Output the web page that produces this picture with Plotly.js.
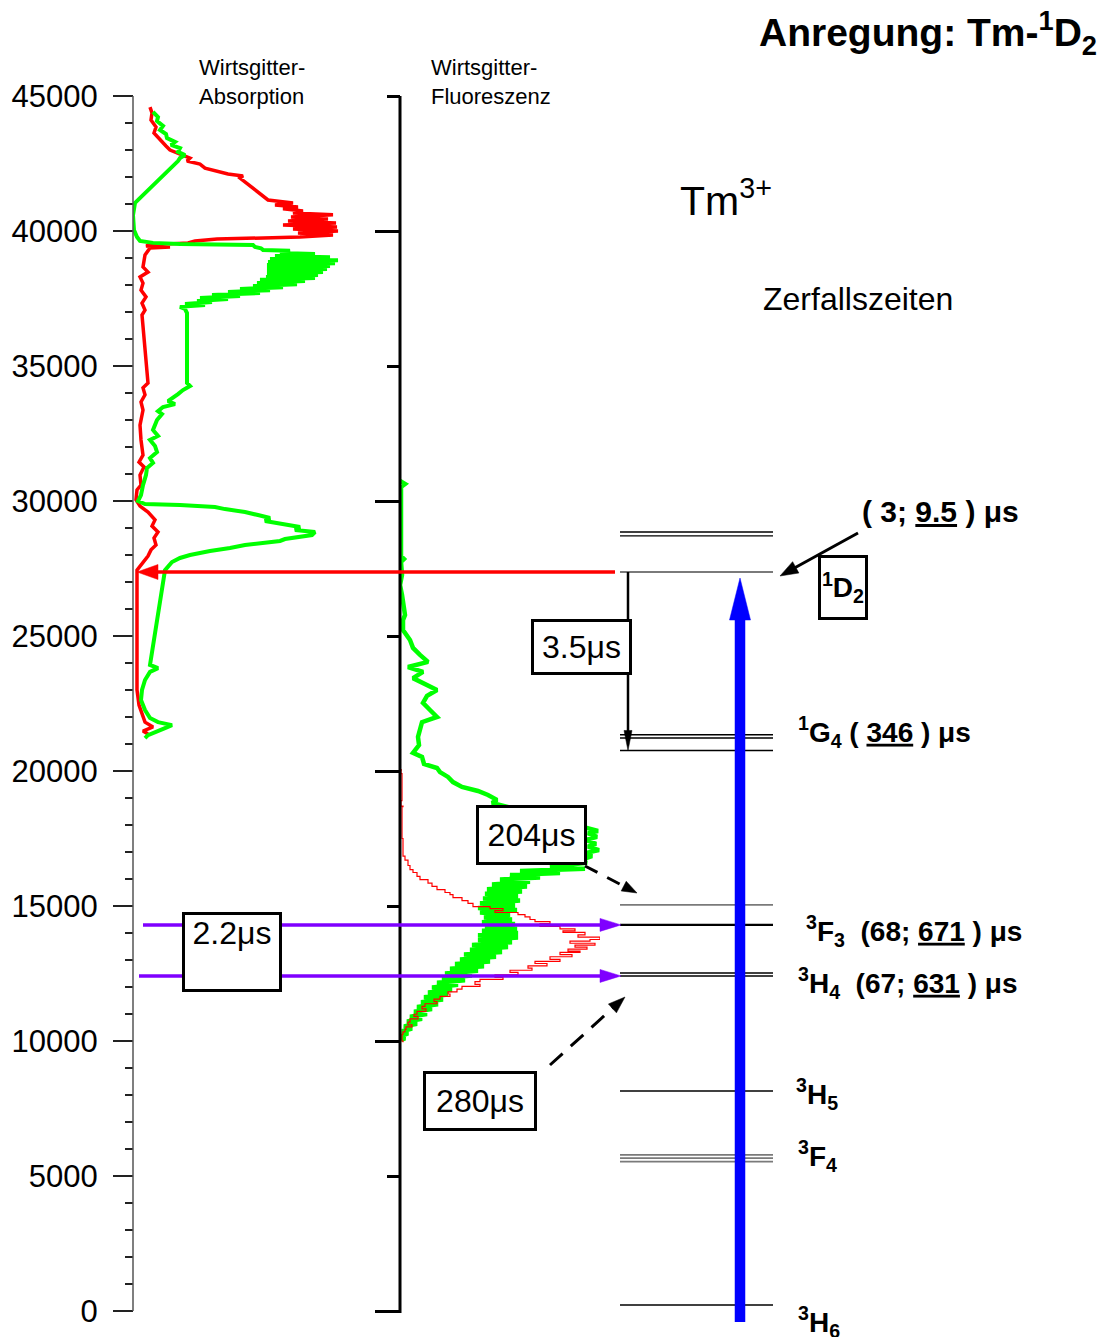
<!DOCTYPE html>
<html>
<head>
<meta charset="utf-8">
<script src="https://cdn.plot.ly/plotly-3.0.1.min.js"></script>
<style>
  html, body { margin: 0; padding: 0; background: #ffffff; }
  #chart { width: 1109px; height: 1337px; }
</style>
</head>
<body>
<div id="chart"></div>
<script>
// ---------- Host-lattice absorption spectra (energy in cm^-1, intensity in a.u.) ----------
const absEnergyRed = [44590, 44370, 44110, 43850, 43630, 43370, 43150, 43000, 42810, 42700, 42590, 42480, 42330, 42220, 42110, 42040, 41960,
  41150, 41040, 40960, 40890, 40820, 40740, 40670, 40600, 40520, 40440, 40370, 40300, 40220, 40150, 40070, 40000, 39930, 39850, 39780,
  39740, 39700, 39630, 39560, 39480, 39440, 39410, 39370,
  39110, 38850, 38670, 38480, 38300, 38070, 37810, 37560, 37330, 37070, 36890,
  34370, 34190, 33930, 33670, 33370, 32810, 32260, 31700, 31440, 31260, 30960, 30590, 30410, 30040,
  29810, 29590, 29300, 29070, 28850, 28630, 28370, 28190, 27960, 27780, 27590, 27440, 27070,
  23000, 22440, 22070, 21810, 21630, 21480, 21370];
const absRed = [17, 19, 18, 23, 21, 27, 33, 37, 50, 57, 54, 67, 72, 82, 95, 110, 107,
  135, 160, 142, 165, 150, 170, 160, 200, 158, 195, 155, 203, 150, 204, 160, 205, 165, 200, 167,
  137, 84, 62, 55, 17, 13, 37, 17,
  12, 11, 10, 15, 7, 10, 8, 13, 9, 12, 9,
  15, 10, 12, 8, 10, 7, 8, 10, 6, 11, 7, 8, 4, 3,
  7, 15, 22, 19, 25, 21, 23, 18, 15, 11, 7, 4, 4,
  4, 6, 9, 12, 20, 10, 15];

const absEnergyGreen = [44410, 44220, 44070, 43890, 43740, 43590, 43440, 43300, 43190, 43070, 42930, 42810, 42700, 42590,
  41040, 40590, 40040, 39780, 39630, 39560,
  39520, 39480, 39410, 39360,
  39300, 39270, 39185, 39150, 39070, 39030, 38960, 38920, 38850, 38810, 38740, 38700, 38630, 38590, 38520, 38480,
  38410, 38370, 38300, 38260, 38190, 38150, 38070, 38030, 37960, 37920, 37850, 37810, 37740, 37700, 37630, 37590,
  37520, 37480, 37410, 37370, 37300, 37260, 37190, 37110, 36960,
  34370, 34260, 34110, 33960, 33810, 33700, 33590, 33480, 33330, 33220, 33000, 32630, 32410, 32260, 32040, 31810, 31590, 31410, 31220, 30960, 30590, 30220, 30000,
  29890, 29850, 29780, 29700, 29590, 29480, 29370, 29260, 29150, 29040, 28930, 28850, 28740, 28670, 28590, 28520, 28440, 28370, 28260, 28150, 28000, 27890, 27740, 27590, 27440,
  23930, 23810, 23670, 23370, 23000, 22630, 22260, 21960, 21810, 21700, 21590, 21480, 21330, 21220];
const absGreen = [20, 25, 24, 30, 27, 33, 34, 42, 38, 47, 45, 52, 47, 45,
  2, 0, 1, 4, 7, 20,
  47, 120, 122, 128,
  130, 157, 147, 182, 142, 197, 137, 205, 135, 202, 134, 197, 134, 194, 134, 190,
  134, 185, 133, 182, 127, 172, 124, 164, 120, 150, 107, 137, 95, 127, 79, 107,
  67, 95, 64, 79, 52, 72, 47, 52, 54,
  54, 57, 50, 45, 39, 35, 42, 30, 25, 29, 24, 20, 25, 17, 22, 24, 17, 20, 14, 13, 10, 8, 5,
  12, 47, 82, 92, 112, 125, 137, 132, 152, 167, 162, 182, 179, 167, 152, 147, 127, 112, 97, 77, 57, 47, 39, 35, 32,
  17, 25, 17, 12, 9, 8, 12, 17, 25, 39, 32, 24, 15, 12];

// ---------- Host-lattice fluorescence spectra ----------
const fluoEnergyGreen = [30740, 30630, 30520, 29300, 27960, 27850, 27740, 27260, 26890, 26520, 26150, 25780, 25590, 25220, 24850,
  24560, 24300, 24040, 23850, 23670, 23440, 23220, 23000, 22780, 22520, 22260, 22000, 21810, 21520, 21260,
  20960, 20670, 20520, 20260, 20110, 19960, 19780, 19590, 19410, 19260, 19110, 18930, 18820,
  17850, 17780, 17700, 17560, 17450, 17300, 17200, 17070, 16960, 16850, 16700, 16600,
  16450, 16380, 16300, 16220, 16150, 16060, 15980, 15900, 15800, 15720, 15620, 15540, 15450, 15370, 15280, 15200, 15100, 15020, 14930, 14850,
  14760, 14680, 14580, 14500, 14400, 14330, 14250, 14160, 14080, 14000, 13920, 13830, 13740, 13660, 13560, 13480, 13380, 13300, 13200, 13120,
  13020, 12940, 12850, 12770, 12680, 12600, 12500, 12430, 12330, 12250, 12160, 12080, 11980, 11900, 11800, 11720, 11620, 11540, 11440, 11360,
  11260, 11180, 11080, 11000, 10900, 10820, 10720, 10640, 10540, 10460, 10360, 10280, 10180, 10100, 10040];
const fluoGreen = [0, 5, 1, 1, 1, 4, 1, 2, 0, 2, 3, 5, 3, 3, 10,
  13, 20, 28, 8, 23, 13, 25, 37, 27, 23, 30, 37, 22, 20, 18,
  19, 13, 22, 24, 37, 40, 48, 53, 62, 78, 88, 97, 92,
  190, 198, 188, 197, 186, 196, 188, 199, 185, 192, 180, 187,
  150, 185, 120, 160, 110, 140, 100, 130, 92, 127, 87, 122, 85, 118, 83, 120, 80, 115, 78, 117,
  80, 110, 84, 112, 82, 115, 85, 117, 82, 118, 78, 118, 78, 112, 72, 108, 70, 102, 64, 96,
  60, 90, 55, 84, 50, 78, 45, 72, 42, 65, 37, 58, 32, 52, 28, 48, 24, 43, 21, 38,
  17, 32, 14, 27, 10, 22, 7, 17, 4, 12, 2, 8, 1, 5, 1];

const fluoEnergyRed = [20040, 19900, 18900, 18700, 18680, 17500, 16850, 16700, 16500, 16350,
  16240, 16100, 15980, 15850, 15730, 15610, 15500, 15420, 15310, 15200,
  15100, 14980, 14900, 14830, 14760, 14680, 14600, 14500, 14420, 14350,
  14240, 14150, 14080, 14020, 13930, 13850, 13760, 13700, 13620, 13550,
  13480, 13400, 13330, 13280, 13200, 13120, 13020, 12950, 12870, 12780,
  12700, 12620, 12540, 12450, 12360, 12280, 12200, 12100, 12020, 11920,
  11820, 11740, 11650, 11550, 11460, 11380, 11280, 11190, 11100, 10990,
  10910, 10820, 10700, 10600, 10520, 10430, 10340, 10250, 10150, 10000, 9950];
const fluoRed = [2, 1, 2, 1, 3, 2, 3, 5, 8, 10,
  13, 17, 20, 28, 32, 37, 45, 50, 53, 62,
  68, 73, 90, 103, 95, 118, 125, 130, 135, 150,
  140, 160, 175, 163, 185, 178, 200, 190, 170, 195,
  175, 187, 168, 180, 160, 172, 150, 160, 135, 147,
  128, 132, 110, 118, 95, 103, 80, 75, 80, 62,
  57, 48, 50, 40, 34, 37, 25, 22, 26, 17,
  14, 18, 10, 8, 12, 6, 5, 3, 2, 2, 3];

// ---------- Tm3+ energy levels (cm^-1) ----------
const levelEnergies = [28850, 28710, 27370, 21340, 21220, 20760, 15040, 14300, 12520, 12410, 8150, 5780, 5660, 5530, 220];
const levelTerms    = ['1I6', '1I6', '1D2', '1G4', '1G4', '1G4', '3F2', '3F3', '3H4', '3H4', '3H5', '3F4', '3F4', '3F4', '3H6'];

// Level labels with decay times (fast; slow) in µs
const labelTerms = ['1G4', '3F3', '3H4', '3H5', '3F4', '3H6'];
const labelTexts = [
  '<sup>1</sup>G<sub>4</sub> ( <u>346</u> ) μs',
  '<sup>3</sup>F<sub>3</sub>  (68; <u>671</u> ) μs',
  '<sup>3</sup>H<sub>4</sub>  (67; <u>631</u> ) μs',
  '<sup>3</sup>H<sub>5</sub>',
  '<sup>3</sup>F<sub>4</sub>',
  '<sup>3</sup>H<sub>6</sub>'
];
const d2Lifetime = '( 3; <u>9.5</u> ) μs';

// Decay times of the host-lattice / transfer steps (µs)
const decayTimes = ['3.5', '204', '280', '2.2'];

// ---------- Geometry helpers ----------
const W = 1109, H = 1337;
const M = { l: 128, r: 0, t: 96, b: 0 };
const AXIS_BOTTOM_PX = 1311;
const E_MAX = 45000;
const E_PER_PX = E_MAX / (AXIS_BOTTOM_PX - M.t);
const E_MIN = -(H - M.b - AXIS_BOTTOM_PX) * E_PER_PX;
const PLOT_W = W - M.l - M.r;
const PLOT_H = H - M.t - M.b;

const pxToE = py => (AXIS_BOTTOM_PX - py) * E_PER_PX;
const eToPx = e => AXIS_BOTTOM_PX - e / E_PER_PX;
const paperX = px => (px - M.l) / PLOT_W;
const paperY = py => (H - M.b - py) / PLOT_H;
const levelOf = term => levelEnergies[levelTerms.indexOf(term)];
const levelMin = term => Math.min(...levelEnergies.filter((e, i) => levelTerms[i] === term));

const FONT = 'Liberation Sans, Arial, Helvetica, sans-serif';
const AXIS1_X = 133, AXIS2_X = 400;
const LEVEL_X0 = 620, LEVEL_X1 = 773;

// arrow = line + filled triangular head, built in screen space and mapped back to axis units
function arrow(x0, e0, x1, e1, o) {
  const p0 = [x0, eToPx(e0)], p1 = [x1, eToPx(e1)];
  const dx = p1[0] - p0[0], dy = p1[1] - p0[1], L = Math.hypot(dx, dy);
  const ux = dx / L, uy = dy / L;
  const bx = p1[0] - ux * o.head, by = p1[1] - uy * o.head;
  const nx = -uy * o.headW / 2, ny = ux * o.headW / 2;
  return [{
    type: 'line', xref: 'x', yref: 'y', layer: 'above',
    x0: p0[0], y0: pxToE(p0[1]), x1: bx + ux, y1: pxToE(by + uy),
    line: { color: o.color, width: o.width, dash: o.dash || 'solid' }
  }, {
    type: 'path', xref: 'x', yref: 'y', layer: 'above',
    path: `M${bx + nx},${pxToE(by + ny)} L${p1[0]},${pxToE(p1[1])} L${bx - nx},${pxToE(by - ny)} Z`,
    fillcolor: o.color, line: { color: o.color, width: 0.5 }
  }];
}

// ---------- Traces ----------
const traces = [];

traces.push({ x: absRed, y: absEnergyRed, xaxis: 'x2', yaxis: 'y', type: 'scatter', mode: 'lines',
  line: { color: '#ff0000', width: 3.5 }, hoverinfo: 'skip', showlegend: false });
traces.push({ x: absGreen, y: absEnergyGreen, xaxis: 'x2', yaxis: 'y', type: 'scatter', mode: 'lines',
  line: { color: '#00ff00', width: 4 }, hoverinfo: 'skip', showlegend: false });
traces.push({ x: fluoGreen, y: fluoEnergyGreen, xaxis: 'x3', yaxis: 'y', type: 'scatter', mode: 'lines',
  line: { color: '#00ff00', width: 4.5 }, hoverinfo: 'skip', showlegend: false });
traces.push({ x: fluoRed, y: fluoEnergyRed, xaxis: 'x3', yaxis: 'y', type: 'scatter', mode: 'lines',
  line: { color: '#ff0000', width: 1.2, shape: 'hv' }, hoverinfo: 'skip', showlegend: false });

// energy level lines, grouped by stroke style
const greyTerms = ['1D2', '3F2', '3F4'];
function levelTrace(filter, color, width) {
  const x = [], y = [];
  levelEnergies.forEach((e, i) => {
    if (!filter(levelTerms[i])) return;
    x.push(LEVEL_X0, LEVEL_X1, null);
    y.push(e, e, null);
  });
  return { x, y, xaxis: 'x', yaxis: 'y', type: 'scatter', mode: 'lines',
    line: { color, width }, hoverinfo: 'skip', showlegend: false, connectgaps: false };
}
traces.push(levelTrace(t => greyTerms.includes(t), '#7a7a7a', 1.8));
traces.push(levelTrace(t => !greyTerms.includes(t) && t !== '3F3', '#000000', 1.4));
traces.push(levelTrace(t => t === '3F3', '#000000', 2.2));

// carrier for the second (fluorescence) energy axis
traces.push({ x: [700], y: [0], xaxis: 'x', yaxis: 'y2', type: 'scatter', mode: 'markers',
  marker: { opacity: 0 }, hoverinfo: 'skip', showlegend: false });

// ---------- Shapes ----------
const shapes = [];
// axis lines
shapes.push({ type: 'line', xref: 'x', yref: 'y', x0: AXIS1_X, x1: AXIS1_X, y0: 0, y1: E_MAX,
  line: { color: '#555555', width: 1.5 }, layer: 'above' });
shapes.push({ type: 'line', xref: 'x', yref: 'y', x0: AXIS2_X, x1: AXIS2_X, y0: pxToE(1313), y1: E_MAX + E_PER_PX,
  line: { color: '#000000', width: 3 }, layer: 'above' });

const eD2 = levelOf('1D2');
const eF3 = levelOf('3F3');
const eH4 = levelMin('3H4');
const eG4low = levelMin('1G4');

// excitation into 1D2 seen in the absorption panel
shapes.push(...arrow(615, eD2, 137, eD2, { color: '#ff0000', width: 3.5, head: 21, headW: 15 }));
// host-lattice transfer into 3F3 and 3H4
shapes.push(...arrow(143, eF3, 621, eF3, { color: '#7f00ff', width: 3.5, head: 21, headW: 13 }));
shapes.push(...arrow(139, eH4, 621, eH4, { color: '#7f00ff', width: 3.5, head: 21, headW: 13 }));
// 1D2 -> 1G4 relaxation
shapes.push(...arrow(628, eD2, 628, eG4low, { color: '#000000', width: 2.5, head: 20, headW: 8 }));
// dashed feeding arrows
shapes.push(...arrow(585, pxToE(866), 637, pxToE(893), { color: '#000000', width: 3, head: 15, headW: 11, dash: '14px,11px' }));
shapes.push(...arrow(550, pxToE(1065), 625, pxToE(997), { color: '#000000', width: 3, head: 17, headW: 12, dash: '17px,11px' }));
// pointer to the 1D2 lifetime
shapes.push(...arrow(858, pxToE(533), 780, eD2 - 4 * E_PER_PX, { color: '#000000', width: 3, head: 18, headW: 13 }));
// blue pump arrow 3H6 -> 1D2
shapes.push(...arrow(740, pxToE(1322), 740, eD2 - 6 * E_PER_PX, { color: '#0000ff', width: 10.5, head: 42, headW: 21 }));

// ---------- Annotations ----------
const ann = [];
function txt(text, px, py, size, opts) {
  ann.push(Object.assign({
    text, xref: 'paper', yref: 'paper', x: paperX(px), y: paperY(py),
    xanchor: 'left', yanchor: 'middle', showarrow: false, align: 'left',
    font: { family: FONT, size, color: '#000000' }
  }, opts || {}));
}
function box(text, cx, cy, w, h, size, opts) {
  ann.push(Object.assign({
    text, xref: 'paper', yref: 'paper', x: paperX(cx), y: paperY(cy),
    xanchor: 'center', yanchor: 'middle', showarrow: false, align: 'center',
    width: w, height: h, borderpad: 0, borderwidth: 3, bordercolor: '#000000', bgcolor: '#ffffff',
    font: { family: FONT, size, color: '#000000' }
  }, opts || {}));
}

txt('<b>Anregung: Tm-<sup>1</sup>D<sub>2</sub></b>', 757, 33, 39);
txt('Tm<sup>3+</sup>', 678, 198, 41);
txt('Zerfallszeiten', 761, 299, 32);
txt('Wirtsgitter-<br>Absorption', 197, 82, 22);
txt('Wirtsgitter-<br>Fluoreszenz', 429, 82, 22);
txt('<b>' + d2Lifetime + '</b>', 860, 511, 30);

const labelPx = { '1G4': [796, 732], '3F3': [804, 931], '3H4': [796, 983], '3H5': [794, 1094], '3F4': [796, 1156], '3H6': [796, 1322] };
labelTerms.forEach((t, i) => {
  txt('<b>' + labelTexts[i] + '</b>', labelPx[t][0], labelPx[t][1], 28);
});

box('<b><sup>1</sup>D<sub>2</sub></b>', 843, 587, 44, 59, 28);
box(decayTimes[0] + 'μs', 581, 647, 95, 50, 32);
box(decayTimes[1] + 'μs', 531, 835, 105, 54, 32);
box(decayTimes[2] + 'μs', 480, 1101, 108, 54, 32);
box(decayTimes[3] + 'μs', 232, 952, 94, 74, 32, { valign: 'top' });

// ---------- Layout ----------
const layout = {
  width: W, height: H,
  margin: M,
  paper_bgcolor: '#ffffff', plot_bgcolor: 'rgba(0,0,0,0)',
  showlegend: false,
  font: { family: FONT, color: '#000000' },
  xaxis: { range: [M.l, W - M.r], domain: [0, 1], visible: false, fixedrange: true },
  xaxis2: { range: [0, 210], domain: [paperX(AXIS1_X), paperX(343)], anchor: 'y', visible: false, fixedrange: true },
  xaxis3: { range: [0, 200], domain: [paperX(AXIS2_X), paperX(600)], anchor: 'y', visible: false, fixedrange: true },
  yaxis: {
    range: [E_MIN, E_MAX], anchor: 'free', position: paperX(AXIS1_X), side: 'left',
    showline: false, showgrid: false, zeroline: false,
    tickmode: 'linear', tick0: 0, dtick: 5000,
    ticks: 'outside', ticklen: 20, tickwidth: 1.3, tickcolor: '#222222',
    tickfont: { family: FONT, size: 31, color: '#000000' },
    ticklabelstandoff: 9, tickformat: 'd',
    minor: { tick0: 0, dtick: 1000, ticks: 'outside', ticklen: 8, tickwidth: 1.2, tickcolor: '#222222', showgrid: false },
    fixedrange: true
  },
  yaxis2: {
    range: [E_MIN, E_MAX], overlaying: 'y', anchor: 'free', position: paperX(AXIS2_X), side: 'left',
    showline: false, showgrid: false, zeroline: false, showticklabels: false,
    tickmode: 'linear', tick0: 0, dtick: 10000,
    ticks: 'outside', ticklen: 25, tickwidth: 3, tickcolor: '#000000',
    minor: { tick0: 0, dtick: 5000, ticks: 'outside', ticklen: 13, tickwidth: 3, tickcolor: '#000000', showgrid: false },
    fixedrange: true
  },
  shapes,
  annotations: ann
};

Plotly.newPlot('chart', traces, layout, { displayModeBar: false, staticPlot: true });
</script>
</body>
</html>
